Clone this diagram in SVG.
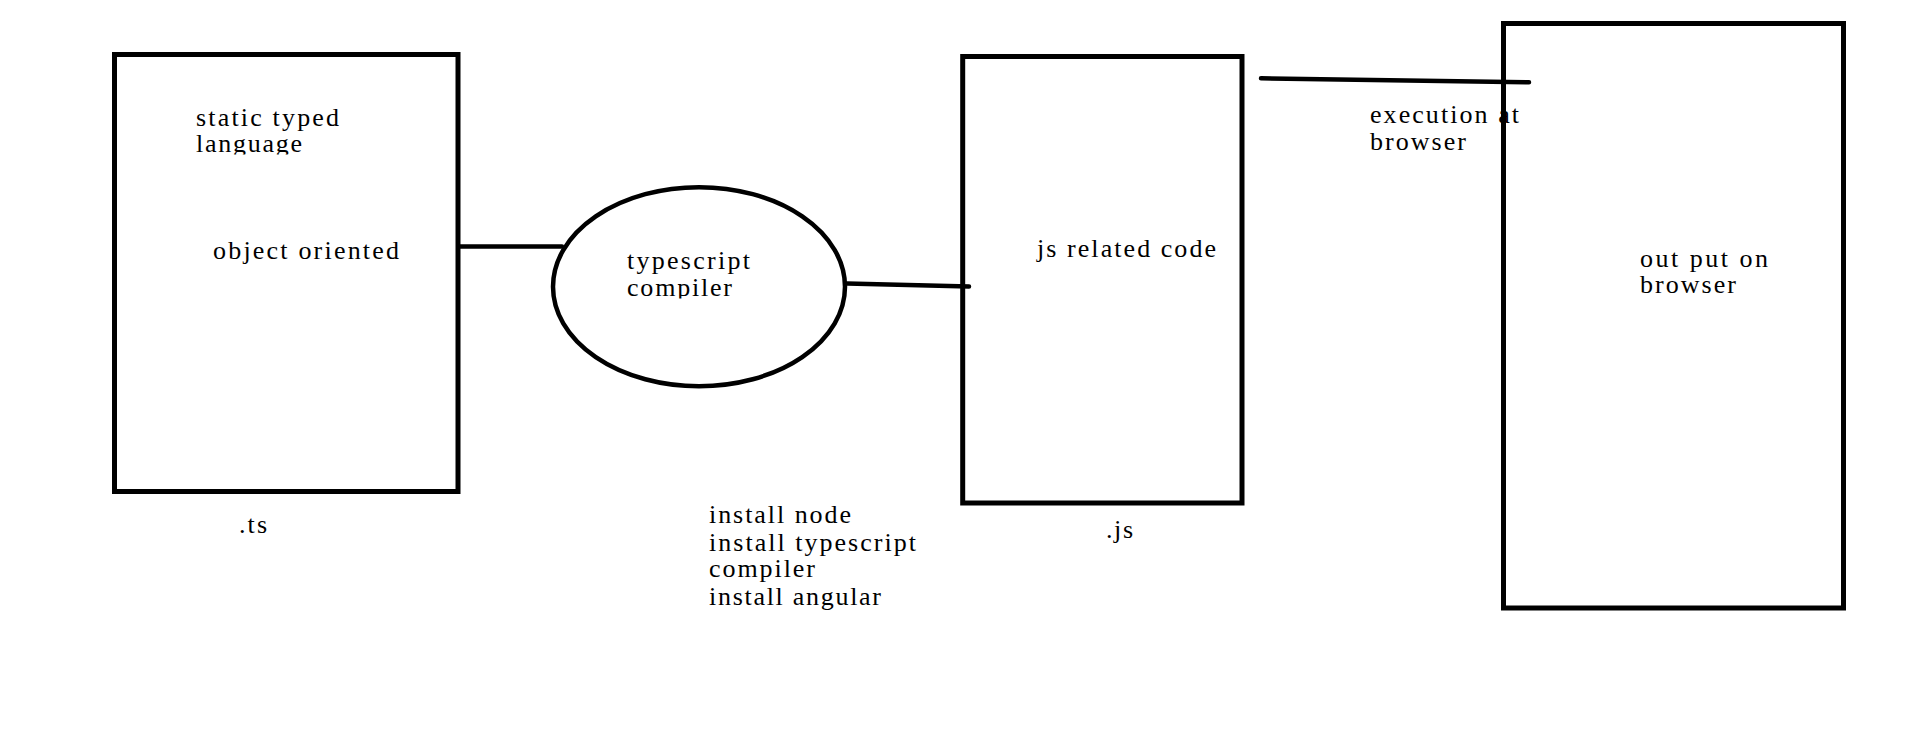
<svg xmlns="http://www.w3.org/2000/svg" width="1914" height="740" viewBox="0 0 1914 740">
<style>
.box{fill:none;stroke:#000;stroke-width:5}
.ell{fill:none;stroke:#000;stroke-width:4.5}
.con{fill:none;stroke:#000;stroke-width:4.5;stroke-linecap:round}
text{font-family:"Liberation Serif","Times New Roman",serif;font-size:26px;fill:#000}
</style>
<defs>
<clipPath id="clipLang"><rect x="150" y="60" width="300" height="94.5"/></clipPath>
<clipPath id="clipComp"><rect x="600" y="230" width="200" height="68.5"/></clipPath>
</defs>
<rect width="1914" height="740" fill="#fff"/>
<g id="connectors">
<line class="con" x1="460" y1="246.5" x2="562" y2="246.5"/>
<line class="con" x1="847" y1="283.5" x2="969" y2="286.5"/>
<line class="con" x1="1261" y1="78.3" x2="1529" y2="82.3"/>
<g id="label-exec">
<text x="1370" y="123.3" textLength="149" lengthAdjust="spacing">execution at</text>
<text x="1370" y="150" textLength="96" lengthAdjust="spacing">browser</text>
</g>
</g>
<g id="node-ts">
<rect class="box" x="114.5" y="54.5" width="343.5" height="437"/>
<g clip-path="url(#clipLang)">
<text x="196" y="126" textLength="143" lengthAdjust="spacing">static typed</text>
<text x="196" y="152" textLength="106" lengthAdjust="spacing">language</text>
</g>
<text x="213" y="259" textLength="186" lengthAdjust="spacing">object oriented</text>
<text x="239" y="533" textLength="28" lengthAdjust="spacing">.ts</text>
</g>
<g id="node-compiler">
<ellipse class="ell" cx="699" cy="286.7" rx="146" ry="99.5"/>
<g clip-path="url(#clipComp)">
<text x="627" y="269" textLength="123" lengthAdjust="spacing">typescript</text>
<text x="627" y="296" textLength="105" lengthAdjust="spacing">compiler</text>
</g>
</g>
<g id="note-install">
<text x="709" y="523" textLength="142" lengthAdjust="spacing">install node</text>
<text x="709" y="550.5" textLength="207" lengthAdjust="spacing">install typescript</text>
<text x="709" y="577" textLength="106" lengthAdjust="spacing">compiler</text>
<text x="709" y="604.5" textLength="172" lengthAdjust="spacing">install angular</text>
</g>
<g id="node-js">
<rect class="box" x="962.7" y="56.5" width="279.3" height="446.5"/>
<text x="1037" y="256.7" textLength="179" lengthAdjust="spacing">js related code</text>
<text x="1106" y="538.3" textLength="27" lengthAdjust="spacing">.js</text>
</g>
<g id="node-browser">
<rect class="box" x="1503.5" y="23.5" width="340" height="584.5"/>
<text x="1640" y="266.7" textLength="128" lengthAdjust="spacing">out put on</text>
<text x="1640" y="292.7" textLength="96" lengthAdjust="spacing">browser</text>
</g>
</svg>
